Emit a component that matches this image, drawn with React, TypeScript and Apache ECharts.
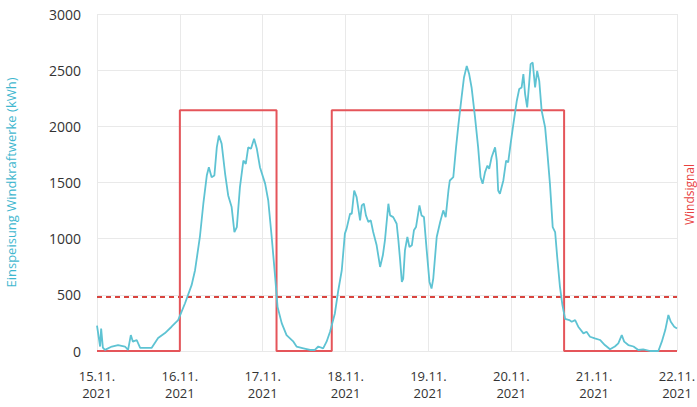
import React, { useEffect, useRef } from "react";
import * as echarts from "echarts";

// hours since 15.11.2021 00:00
const windHours = [
  0, 0.9, 1.2, 1.7, 2.3, 4.3, 6.1, 8.1, 9.0, 9.8, 10.4, 11.5, 12.5, 15.8, 17.7, 19.7, 21.6, 23.5,
  25.5, 27.4, 28.4, 29.8, 30.8, 31.8, 32.4, 33.2, 34.0, 34.7, 35.3, 36.1, 37.1, 38.0, 39.0, 39.8,
  40.5, 41.4, 42.4, 43.1, 43.8, 44.6, 45.5, 46.3, 47.2, 48.7, 49.6, 50.6, 51.6, 52.3, 53.5, 54.9,
  56.9, 57.8, 59.8, 61.7, 63.1, 64.1, 65.5, 66.5, 67.5, 68.9, 69.9, 70.9, 71.8, 72.3, 73.3, 73.8,
  74.5, 75.2, 76.2, 76.7, 77.3, 77.9, 78.6, 79.3, 80.0, 81.0, 82.0, 82.8, 83.4, 84.4, 84.9, 85.8,
  86.8, 87.3, 87.8, 88.3, 88.7, 89.2, 89.9, 90.5, 91.2, 91.8, 92.4, 93.4, 94.0, 94.7, 95.5, 96.3,
  96.9, 97.4, 98.4, 99.4, 100.3, 101.0, 101.8, 102.2, 103.2, 104.0, 104.7, 105.6, 106.3, 107.1,
  107.8, 108.5, 109.5, 110.4, 111.1, 111.7, 112.4, 113.1, 113.6, 114.3, 115.3, 115.8, 116.2, 116.7,
  117.7, 118.5, 119.1, 119.8, 120.6, 121.6, 122.3, 123.0, 123.5, 124.0, 124.6, 125.2, 125.6, 126.2,
  126.9, 127.5, 128.1, 128.8, 129.8, 130.4, 131.2, 132.0, 132.7, 133.3, 134.1, 134.8, 135.6, 136.8,
  137.5, 138.5, 139.4, 140.9, 141.8, 142.8, 144.2, 145.7, 147.1, 148.6, 150.0, 151.0, 152.0, 152.7,
  153.9, 155.4, 156.8, 158.2, 160.2, 161.6, 162.6, 163.6, 164.6, 165.5, 166.2, 167.2, 168,
];
const windValues = [
  225, 40, 200, 30, 10, 40, 53, 40, 10, 142, 83, 98, 27, 27, 115, 160, 216, 275,
  425, 586, 719, 1015, 1311, 1562, 1636, 1547, 1562, 1813, 1917, 1846, 1580, 1385, 1281, 1059,
  1103, 1458, 1695, 1666, 1813, 1800, 1890, 1800, 1636, 1490, 1340, 1015, 660, 393, 248, 142,
  83, 40, 24, 9, 9, 40, 24, 83, 171, 334, 541, 719, 1045, 1089, 1222, 1222,
  1429, 1370, 1163, 1296, 1311, 1207, 1148, 1163, 1059, 941, 748, 852, 985, 1311, 1207, 1192,
  1133, 985, 808, 615, 645, 896, 1015, 926, 941, 1074, 1103, 1296, 1207, 1192, 896, 615,
  556, 645, 1015, 1148, 1252, 1192, 1429, 1518, 1547, 1813, 2020, 2257, 2435, 2538,
  2465, 2346, 2080, 1813, 1547, 1488, 1592, 1651, 1621, 1725, 1813, 1695, 1429, 1400,
  1518, 1695, 1680, 1843, 2020, 2228, 2332, 2346, 2465, 2287, 2168, 2391, 2554, 2568,
  2346, 2494, 2405, 2139, 1991, 1784, 1488, 1103, 1059, 837, 571, 410, 285, 275,
  260, 275, 216, 157, 171, 127, 112, 98, 53, 15, 40, 68, 142, 83,
  53, 40, 9, 15, 0, 0, 0, 83, 186, 320, 260, 216, 201,
];

const signalHours = [0, 24, 24, 52, 52, 68, 68, 135.3, 135.3, 168];
const signalValues = [0, 0, 1, 1, 0, 0, 1, 1, 0, 0];

const thresholdHours = [0, 168];
const thresholdValues = [480, 480];

const dayLabels = [
  "15.11.\n2021",
  "16.11.\n2021",
  "17.11.\n2021",
  "18.11.\n2021",
  "19.11.\n2021",
  "20.11.\n2021",
  "21.11.\n2021",
  "22.11.\n2021",
];

const CYAN = "#5ec3d3";
const RED = "#e5555a";
const FONT = "'Open Sans', sans-serif";

export default function App() {
  const ref = useRef<HTMLDivElement>(null);
  useEffect(() => {
    if (!ref.current) return;
    const chart = echarts.init(ref.current, undefined, { renderer: "svg" });
    chart.setOption({
      animation: false,
      backgroundColor: "#ffffff",
      grid: { left: 97, right: 20, top: 14, bottom: 56, containLabel: false, outerBoundsMode: "none" },
      xAxis: {
        type: "value",
        min: 0,
        max: 168,
        interval: 24,
        axisLine: { show: false },
        axisTick: { show: false },
        splitLine: { show: true, lineStyle: { color: "#e9e9e9", width: 1 } },
        axisLabel: {
          margin: 16,
          color: "#333333",
          fontSize: 13,
          lineHeight: 17,
          fontFamily: FONT,
          showMinLabel: true,
          showMaxLabel: true,
          formatter: (v: number) => dayLabels[Math.round(v / 24)] ?? "",
        },
      },
      yAxis: [
        {
          type: "value",
          min: 0,
          max: 3000,
          interval: 500,
          axisLine: { show: false },
          axisTick: { show: false },
          splitLine: { show: true, lineStyle: { color: "#e9e9e9", width: 1 } },
          axisLabel: {
            margin: 16,
            color: "#333333",
            fontSize: 14,
            fontFamily: FONT,
            formatter: (v: number) => String(v),
          },
          name: "Einspeisung Windkraftwerke (kWh)",
          nameLocation: "middle",
          nameRotate: 90,
          nameGap: 80,
          nameTextStyle: { color: "#3fb7cf", fontSize: 13, fontFamily: FONT },
        },
        {
          type: "value",
          min: 0,
          max: 1.4,
          axisLine: { show: false },
          axisTick: { show: false },
          splitLine: { show: false },
          axisLabel: { show: false },
          name: "Windsignal",
          nameLocation: "middle",
          nameRotate: 90,
          nameGap: 6,
          nameTextStyle: { color: "#e8413f", fontSize: 12, fontFamily: FONT, padding: [0, 24, 0, 0] },
        },
      ],
      series: [
        {
          type: "line",
          yAxisIndex: 0,
          data: thresholdHours.map((h, i) => [h, thresholdValues[i]]),
          symbol: "none",
          silent: true,
          z: 1,
          lineStyle: { color: "#d9443f", width: 2, type: [5, 4] },
        },
        {
          type: "line",
          yAxisIndex: 1,
          data: signalHours.map((h, i) => [h, signalValues[i]]),
          symbol: "none",
          silent: true,
          z: 2,
          lineStyle: { color: RED, width: 2 },
        },
        {
          type: "line",
          yAxisIndex: 0,
          data: windHours.map((h, i) => [h, windValues[i]]),
          symbol: "none",
          silent: true,
          z: 3,
          lineStyle: { color: CYAN, width: 1.8 },
        },
      ],
    });
    return () => chart.dispose();
  }, []);
  return (
    <div
      ref={ref}
      style={{ position: "fixed", left: 0, top: 0, width: 697, height: 407 }}
    />
  );
}
